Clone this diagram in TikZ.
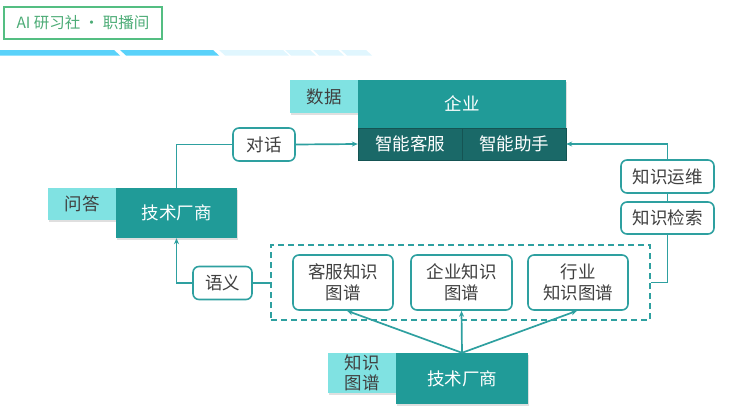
\documentclass[tikz,border=0pt]{standalone}
\usepackage{fontspec}
\newfontfamily\cjk{Noto Sans CJK SC}
\usetikzlibrary{arrows.meta,shadows}
\definecolor{lcyan}{HTML}{80E2E2}
\definecolor{tealc}{HTML}{209B98}
\definecolor{darkt}{HTML}{1A6968}
\definecolor{linec}{HTML}{2EA0A0}
\definecolor{txtg}{HTML}{404040}
\definecolor{hgreen}{HTML}{54BE82}
\definecolor{sblue}{HTML}{5AD2FA}
\definecolor{slight}{HTML}{E0F6FE}
\tikzset{
  every node/.style={font=\cjk\fontsize{17.5}{21}\selectfont, inner sep=0pt, align=center},
  shad/.style={drop shadow={opacity=0.25, shadow xshift=1pt, shadow yshift=-1.5pt}},
  lightbox/.style={fill=lcyan, text=txtg, shad},
  tealbox/.style={fill=tealc, text=white, shad},
  darkbox/.style={fill=darkt, text=white, draw=darkt!80!black, line width=0.4pt},
  rbox/.style={draw=linec, line width=1.6pt, rounded corners=6pt, fill=white, text=txtg},
  conn/.style={draw=linec, line width=1.7pt},
  arr/.style={conn, -{Stealth[length=6pt,width=5pt]}},
}
\begin{document}
\begin{tikzpicture}[x=1pt,y=-1pt]
\useasboundingbox (0,0) rectangle (740,415);
% header
\node[draw=hgreen, line width=2pt, minimum width=158, minimum height=32, text=hgreen!90!black, font=\cjk\fontsize{15.5}{18}\selectfont] (hdr) at (83,23) {AI 研习社 · 职播间};
\fill[sblue] (0,50) -- (114,50) -- (120,55.5) -- (0,55.5) -- cycle;
\fill[sblue] (120,50) -- (213,50) -- (219,55.5) -- (126,55.5) -- cycle;
\fill[slight] (219,50) -- (283,50) -- (289,55.5) -- (225,55.5) -- cycle;
\fill[slight] (285,50) -- (310,50) -- (316,55.5) -- (291,55.5) -- cycle;
\fill[slight] (313,50) -- (338,50) -- (344,55.5) -- (319,55.5) -- cycle;
\fill[slight] (341,50) -- (366,50) -- (372,55.5) -- (347,55.5) -- cycle;

% top enterprise block
\node[lightbox, minimum width=68, minimum height=33] (sj) at (324,96.5) {数据};
\node[tealbox, minimum width=208, minimum height=48] (qy) at (462,104) {企业};
\node[darkbox, minimum width=104, minimum height=32] (kf) at (410,144) {智能客服};
\node[darkbox, minimum width=104, minimum height=32] (zs) at (514,144) {智能助手};

% left vendor
\node[lightbox, minimum width=68, minimum height=32] (wd) at (82,204) {问答};
\node[tealbox, minimum width=121, minimum height=50] (js1) at (176.5,213) {技术厂商};

% label boxes
\node[rbox, minimum width=62, minimum height=33] (dh) at (264,144.5) {对话};
\node[rbox, minimum width=59, minimum height=33] (yy) at (222.5,283) {语义};
\node[rbox, minimum width=93, minimum height=33] (yw) at (667.5,176.5) {知识运维};
\node[rbox, minimum width=93, minimum height=32] (jsuo) at (667.5,218) {知识检索};

% knowledge graphs
\node[draw=linec, line width=1.6pt, dash pattern=on 6pt off 4pt, minimum width=379, minimum height=75] (kg) at (460.5,282.5) {};
\node[rbox, minimum width=100, minimum height=55] (k1) at (343,282.5) {客服知识\\图谱};
\node[rbox, minimum width=101, minimum height=55] (k2) at (461.5,282.5) {企业知识\\图谱};
\node[rbox, minimum width=100, minimum height=55] (k3) at (578,282.5) {行业\\知识图谱};

% bottom vendor
\node[lightbox, minimum width=68, minimum height=40, font=\cjk\fontsize{17.5}{19.5}\selectfont] (tp) at (362,373) {知识\\图谱};
\node[tealbox, minimum width=132, minimum height=51] (js2) at (462,378.5) {技术厂商};

% connectors
\draw[conn] (js1.north) |- (dh.west);
\draw[arr] (dh.east) -- (kf.west);
\draw[arr] (yy.west) -| (js1.south);
\draw[conn] (yy.east) -- (yy.east -| kg.west);
\draw[conn] (kg.east) -| (jsuo.south);
\draw[conn] (jsuo.north) -- (yw.south);
\draw[arr] (yw.north) |- (zs.east);
\draw[arr] (js2.north) -- ([xshift=4pt]k1.south);
\draw[arr] (js2.north) -- (k2.south);
\draw[arr] (js2.north) -- ([xshift=-1pt]k3.south);
\end{tikzpicture}
\end{document}
